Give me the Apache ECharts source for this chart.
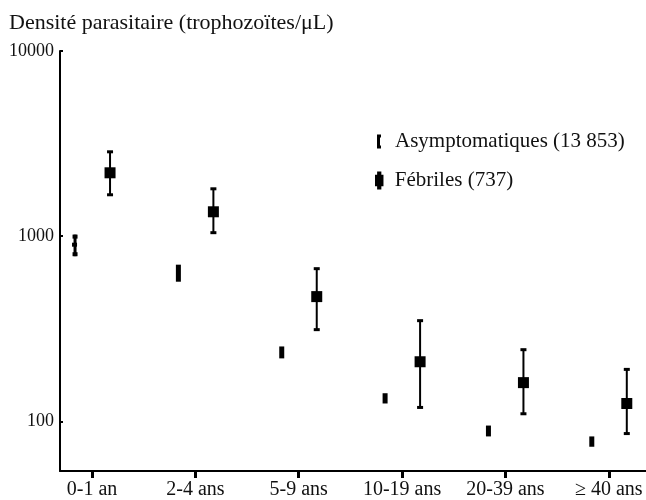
<!DOCTYPE html>
<html>
<head>
<meta charset="utf-8">
<script src="https://cdn.jsdelivr.net/npm/echarts@6/dist/echarts.min.js"></script>
<style>
  html, body { margin: 0; padding: 0; background: #ffffff; }
  #chart { width: 646px; height: 500px; }
</style>
</head>
<body>
<div id="chart"></div>
<script>
var categories = ['0-1 an', '2-4 ans', '5-9 ans', '10-19 ans', '20-39 ans', '≥ 40 ans'];
var yTicks = [100, 1000, 10000];

// Asymptomatiques : moyenne et intervalle
var asyMid = [900, 636, 235, 133, 89, 78];
var asyLow = [780, 568, 219, 125, 83, 73];
var asyHigh = [1020, 702, 254, 142, 95, 83];

// Fébriles : moyenne et intervalle
var febMid = [2200, 1355, 472, 210, 162, 125];
var febLow = [1674, 1045, 313, 119, 110, 86];
var febHigh = [2856, 1803, 668, 350, 244, 191];

var serif = 'Liberation Serif';

function toData(low, mid, high) {
    return categories.map(function (c, i) {
        return [i, low[i], mid[i], high[i]];
    });
}

function asyItem(params, api) {
    var x = api.value(0);
    var c = api.coord([x, api.value(2)]);
    var lo = api.coord([x, api.value(1)]);
    var hi = api.coord([x, api.value(3)]);
    var px = c[0] - 17;
    var st = { fill: '#000' };
    var h = lo[1] - hi[1];
    if (h < 20) {
        // petit intervalle : un seul bloc
        return { type: 'rect', shape: { x: px - 2.5, y: hi[1], width: 5, height: h }, style: st };
    }
    return {
        type: 'group',
        children: [
            { type: 'rect', shape: { x: px - 1.5, y: hi[1], width: 3, height: h }, style: st },
            { type: 'rect', shape: { x: px - 2.5, y: hi[1], width: 5, height: 4 }, style: st },
            { type: 'rect', shape: { x: px - 2.5, y: lo[1] - 4, width: 5, height: 4 }, style: st },
            { type: 'rect', shape: { x: px - 3, y: c[1] - 2, width: 5, height: 4 }, style: st }
        ]
    };
}

function febItem(params, api) {
    var x = api.value(0);
    var c = api.coord([x, api.value(2)]);
    var lo = api.coord([x, api.value(1)]);
    var hi = api.coord([x, api.value(3)]);
    var px = c[0] + 18;
    var cap = { stroke: '#000', lineWidth: 3 };
    return {
        type: 'group',
        children: [
            { type: 'line', shape: { x1: px, y1: hi[1], x2: px, y2: lo[1] }, style: { stroke: '#000', lineWidth: 2 } },
            { type: 'line', shape: { x1: px - 3, y1: hi[1], x2: px + 3, y2: hi[1] }, style: cap },
            { type: 'line', shape: { x1: px - 3, y1: lo[1], x2: px + 3, y2: lo[1] }, style: cap },
            { type: 'rect', shape: { x: px - 5.5, y: c[1] - 5.5, width: 11, height: 11 }, style: { fill: '#000' } }
        ]
    };
}

var chart = echarts.init(document.getElementById('chart'), null, { renderer: 'canvas' });

var option = {
    backgroundColor: '#ffffff',
    animation: false,
    title: {
        text: 'Densité parasitaire (trophozoïtes/μL)',
        left: 4,
        top: 7,
        textStyle: { fontFamily: serif, fontSize: 22, fontWeight: 'normal', color: '#111' }
    },
    legend: [{
        data: ['Asymptomatiques (13 853)'],
        left: 372,
        top: 126,
        itemWidth: 6,
        itemHeight: 14,
        icon: 'path://M0,0h4v3h-1v8h1v3h-4z',
        textStyle: { fontFamily: serif, fontSize: 21, color: '#111', padding: [0, 0, 0, 8] }
    }, {
        data: ['Fébriles (737)'],
        left: 370,
        top: 165,
        itemWidth: 9,
        itemHeight: 18,
        icon: 'path://M2,0h4v3h2v11h-2v3h-4v-3h-2v-11h2z',
        textStyle: { fontFamily: serif, fontSize: 21, color: '#111', padding: [0, 0, 0, 6] }
    }],
    grid: { left: 60, right: 0, top: 51, bottom: 29 },
    xAxis: {
        type: 'value',
        min: -0.31,
        max: 5.36,
        splitLine: { show: false },
        axisLine: { onZero: false, lineStyle: { color: '#000', width: 2 } },
        axisTick: {
            customValues: [0, 1, 2, 3, 4, 5],
            length: 7,
            lineStyle: { color: '#000', width: 3 }
        },
        axisLabel: {
            customValues: [0, 1, 2, 3, 4, 5],
            margin: 9,
            fontFamily: serif,
            fontSize: 20,
            color: '#111',
            formatter: function (v) { return categories[Math.round(v)]; }
        }
    },
    yAxis: {
        type: 'log',
        logBase: 10,
        min: 54,
        max: 10000,
        splitLine: { show: false },
        axisLine: { show: true, onZero: false, lineStyle: { color: '#000', width: 2 } },
        axisTick: {
            customValues: yTicks,
            inside: true,
            length: 3,
            lineStyle: { color: '#000', width: 2 }
        },
        axisLabel: {
            customValues: yTicks,
            margin: 6,
            fontFamily: serif,
            fontSize: 18,
            color: '#111',
            formatter: function (v) { return String(Math.round(v)); }
        }
    },
    series: [{
        name: 'Asymptomatiques (13 853)',
        type: 'custom',
        itemStyle: { color: '#000' },
        renderItem: asyItem,
        encode: { x: 0, y: [1, 2, 3] },
        data: toData(asyLow, asyMid, asyHigh)
    }, {
        name: 'Fébriles (737)',
        type: 'custom',
        itemStyle: { color: '#000' },
        renderItem: febItem,
        encode: { x: 0, y: [1, 2, 3] },
        data: toData(febLow, febMid, febHigh)
    }]
};

chart.setOption(option);

window.onresize = function () {
    chart.resize();
};
</script>
</body>
</html>
